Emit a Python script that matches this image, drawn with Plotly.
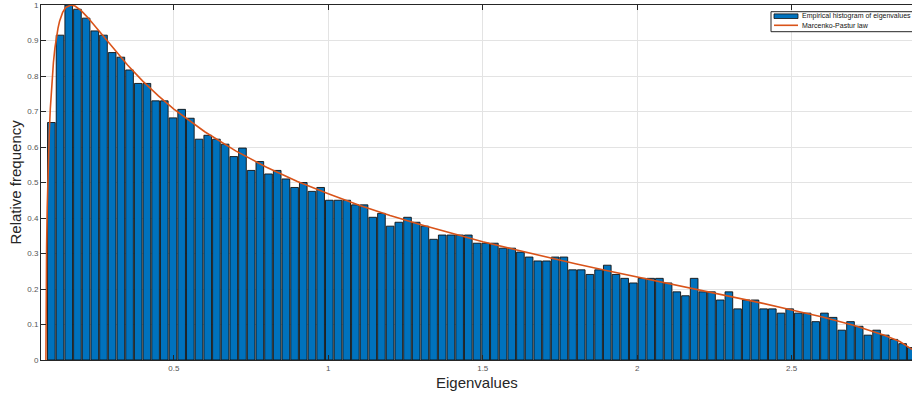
import numpy as np
import plotly.graph_objects as go

# Histogram: 100 bins, relative frequency (normalised to max bin)
bin_start = 0.0894
bin_width = 0.02812
rel_freq = [
    0.669, 0.915, 1.000, 0.988, 0.963, 0.927, 0.915, 0.866, 0.853, 0.817,
    0.779, 0.779, 0.730, 0.730, 0.682, 0.706, 0.681, 0.622, 0.633, 0.622,
    0.608, 0.573, 0.597, 0.534, 0.559, 0.524, 0.534, 0.510, 0.486, 0.500,
    0.475, 0.486, 0.450, 0.450, 0.450, 0.437, 0.437, 0.402, 0.413, 0.377,
    0.388, 0.402, 0.388, 0.377, 0.340, 0.352, 0.352, 0.352, 0.352, 0.329,
    0.329, 0.329, 0.315, 0.315, 0.304, 0.290, 0.279, 0.279, 0.290, 0.290,
    0.254, 0.254, 0.241, 0.254, 0.267, 0.241, 0.230, 0.217, 0.230, 0.230,
    0.230, 0.217, 0.192, 0.181, 0.230, 0.192, 0.192, 0.169, 0.192, 0.144,
    0.169, 0.169, 0.144, 0.144, 0.132, 0.144, 0.132, 0.132, 0.108, 0.132,
    0.120, 0.084, 0.108, 0.095, 0.070, 0.084, 0.070, 0.058, 0.046, 0.035,
]

# Marcenko-Pastur law
mp_x = [0.0858, 0.0862, 0.087, 0.088, 0.090, 0.093, 0.097, 0.100, 0.105, 0.110,
        0.115, 0.120, 0.125, 0.130, 0.140, 0.150, 0.1667, 0.180, 0.200, 0.220,
        0.250, 0.300, 0.350, 0.400, 0.450, 0.500, 0.600, 0.700, 0.800, 0.900,
        1.000, 1.100, 1.200, 1.300, 1.400, 1.500, 1.600, 1.700, 1.800, 1.900,
        2.000, 2.100, 2.200, 2.300, 2.400, 2.500, 2.600, 2.700, 2.800, 2.850,
        2.900, 2.914]
mp_y = [0.000, 0.138, 0.237, 0.317, 0.428, 0.542, 0.647, 0.707, 0.782, 0.837,
        0.879, 0.911, 0.935, 0.954, 0.979, 0.993, 1.000, 0.997, 0.984, 0.966,
        0.935, 0.882, 0.831, 0.785, 0.744, 0.707, 0.643, 0.589, 0.543, 0.503,
        0.468, 0.436, 0.407, 0.381, 0.356, 0.333, 0.312, 0.291, 0.271, 0.252,
        0.234, 0.216, 0.197, 0.179, 0.161, 0.141, 0.121, 0.098, 0.070, 0.052,
        0.024, 0.000]

x_ticks = [0.5, 1, 1.5, 2, 2.5]
x_tick_labels = ["0.5", "1", "1.5", "2", "2.5"]
y_ticks = [0, 0.1, 0.2, 0.3, 0.4, 0.5, 0.6, 0.7, 0.8, 0.9, 1]
y_tick_labels = ["0", "0.1", "0.2", "0.3", "0.4", "0.5", "0.6", "0.7", "0.8", "0.9", "1"]

hist_name = "Empirical histogram of eigenvalues"
mp_name = "Marcenko-Pastur law"
x_title = "Eigenvalues"
y_title = "Relative frequency"

centers = bin_start + bin_width * (np.arange(len(rel_freq)) + 0.5)

AX = "#262626"
GRID = "#e3e3e3"
BLUE = "#0072BD"
ORANGE = "#D95319"
FONT = "Liberation Sans, Arial, sans-serif"

W, H = 912, 396
ML, MR, MT, MB = 41, 0, 5, 36
PW, PH = W - ML - MR, H - MT - MB


def px(x):  # pixel -> paper x
    return (x - ML) / PW


def py(y):  # pixel -> paper y
    return (H - MB - y) / PH


fig = go.Figure()
fig.add_trace(go.Bar(
    x=centers, y=rel_freq, width=bin_width * 0.88,
    marker=dict(color=BLUE, line=dict(color="#111111", width=0.9)),
    name=hist_name, showlegend=False,
))
fig.add_trace(go.Scatter(
    x=mp_x, y=mp_y, mode="lines",
    line=dict(color=ORANGE, width=1.6),
    name=mp_name, showlegend=False,
))

# legend box (drawn manually to match the compact MATLAB legend)
shapes = [
    dict(type="rect", xref="paper", yref="paper", x0=px(771), x1=px(930),
         y0=py(31.7), y1=py(11.7), line=dict(color=AX, width=1), fillcolor="white"),
    dict(type="rect", xref="paper", yref="paper", x0=px(774), x1=px(798),
         y0=py(18.5), y1=py(13.9), line=dict(color="#111111", width=0.8), fillcolor=BLUE),
    dict(type="line", xref="paper", yref="paper", x0=px(774), x1=px(798),
         y0=py(25.3), y1=py(25.3), line=dict(color=ORANGE, width=1.6)),
]
annotations = [
    dict(text=hist_name, xref="paper", yref="paper", x=px(800), y=py(16.3),
         xanchor="left", yanchor="middle", showarrow=False,
         font=dict(size=7, color="#111111", family=FONT)),
    dict(text=mp_name, xref="paper", yref="paper", x=px(800), y=py(25.5),
         xanchor="left", yanchor="middle", showarrow=False,
         font=dict(size=7, color="#111111", family=FONT)),
    dict(text=x_title, xref="paper", yref="paper", x=0.5, y=py(383),
         xanchor="center", yanchor="middle", showarrow=False,
         font=dict(size=15, color=AX, family=FONT)),
    dict(text=y_title, xref="paper", yref="paper", x=px(15), y=0.5,
         xanchor="center", yanchor="middle", showarrow=False, textangle=-90,
         font=dict(size=15, color=AX, family=FONT)),
]

fig.update_layout(
    width=W, height=H,
    margin=dict(l=ML, r=MR, t=MT, b=MB),
    paper_bgcolor="white", plot_bgcolor="white",
    font=dict(family=FONT, color=AX),
    showlegend=False,
    shapes=shapes, annotations=annotations,
    xaxis=dict(
        range=[0.0699, 2.8896], automargin=False,
        tickvals=x_ticks, ticktext=x_tick_labels,
        ticks="inside", ticklen=5, tickcolor=AX, tickwidth=1,
        showline=True, linecolor=AX, linewidth=1, mirror="ticks",
        showgrid=True, gridcolor=GRID, gridwidth=1, zeroline=False,
        tickfont=dict(size=8, color="#555555"),
    ),
    yaxis=dict(
        range=[0, 1], automargin=False,
        tickvals=y_ticks, ticktext=y_tick_labels,
        ticks="inside", ticklen=5, tickcolor=AX, tickwidth=1,
        showline=True, linecolor=AX, linewidth=1, mirror=False,
        showgrid=True, gridcolor=GRID, gridwidth=1, zeroline=False,
        tickfont=dict(size=8, color="#555555"),
    ),
)

fig.write_html(
    "out.html",
    config={"displayModeBar": False},
    post_script="document.body.style.margin='0';document.body.style.overflow='hidden';",
)
